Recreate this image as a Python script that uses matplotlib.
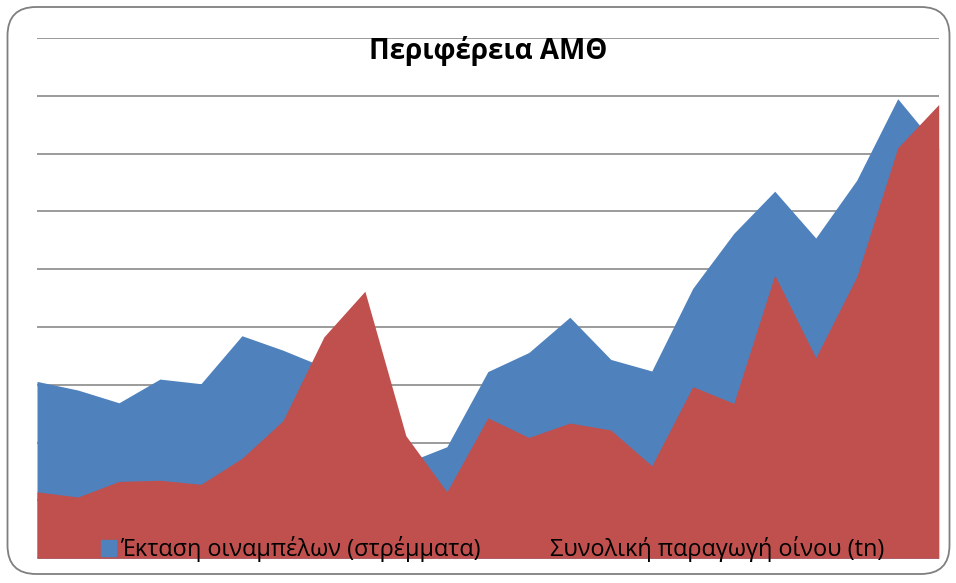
import numpy as np
import matplotlib.pyplot as plt
from matplotlib.patches import FancyBboxPatch, Patch

plt.rcParams['font.family'] = ['Open Sans', 'DejaVu Sans']

# values (axis has no labels, units arbitrary 0..9)
idx = np.arange(23)
ektasi = [3.06, 2.91, 2.69, 3.10, 3.02, 3.85, 3.60, 3.31, 2.30, 1.65, 1.93, 3.23,
          3.56, 4.17, 3.44, 3.24, 4.67, 5.62, 6.35, 5.54, 6.54, 7.95, 7.09]
paragogi = [1.15, 1.06, 1.33, 1.35, 1.28, 1.73, 2.38, 3.83, 4.62, 2.12, 1.15, 2.43,
            2.09, 2.34, 2.22, 1.60, 2.97, 2.68, 4.90, 3.47, 4.87, 7.10, 7.85]
labels = ["Έκταση οιναμπέλων (στρέμματα)", "Συνολική παραγωγή οίνου (tn)"]
title = "Περιφέρεια ΑΜΘ"

blue = "#4F81BD"
red = "#C0504D"

fig = plt.figure(figsize=(9.56, 5.83), dpi=100)
ax = fig.add_axes([37/956, 24.7/583, (938.7-37)/956, (558.3-38)/583])

ax.fill_between(idx, 0, ektasi, color=blue, lw=0, zorder=2)
ax.fill_between(idx, 0, paragogi, color=red, lw=0, zorder=3)

ax.set_xlim(0, 22)
ax.set_ylim(0, 9)
ax.set_yticks(range(10))
ax.set_xticks([])
ax.tick_params(left=False, labelleft=False)
ax.grid(axis="y", color="#8a8a8a", lw=1.2)
ax.set_axisbelow(True)
for s in ax.spines.values():
	s.set_visible(False)

fig.text(488/956, 1 - 51/583, title, ha="center", va="center", fontsize=20, fontweight="bold")

handles = [Patch(color=blue), Patch(color=red)]
leg = ax.legend(handles, labels, loc="lower left", ncol=2, frameon=False,
	bbox_to_anchor=(101/956, 21/583), bbox_transform=fig.transFigure,
	fontsize=16.9, handlelength=0.64, handleheight=0.64, handletextpad=0.17,
	columnspacing=2.17, borderpad=0, borderaxespad=0)
leg.set_zorder(5)

# rounded border around the whole chart
box = FancyBboxPatch((7.5/956, 9/583), 942/956, 567/583, boxstyle="round,pad=0,rounding_size=0.03",
	transform=fig.transFigure, fill=False, edgecolor="#7f7f7f", lw=1.3, mutation_aspect=956/583)
fig.patches.append(box)

plt.savefig("out.png", dpi=100)
print("saved figure: out.png")
